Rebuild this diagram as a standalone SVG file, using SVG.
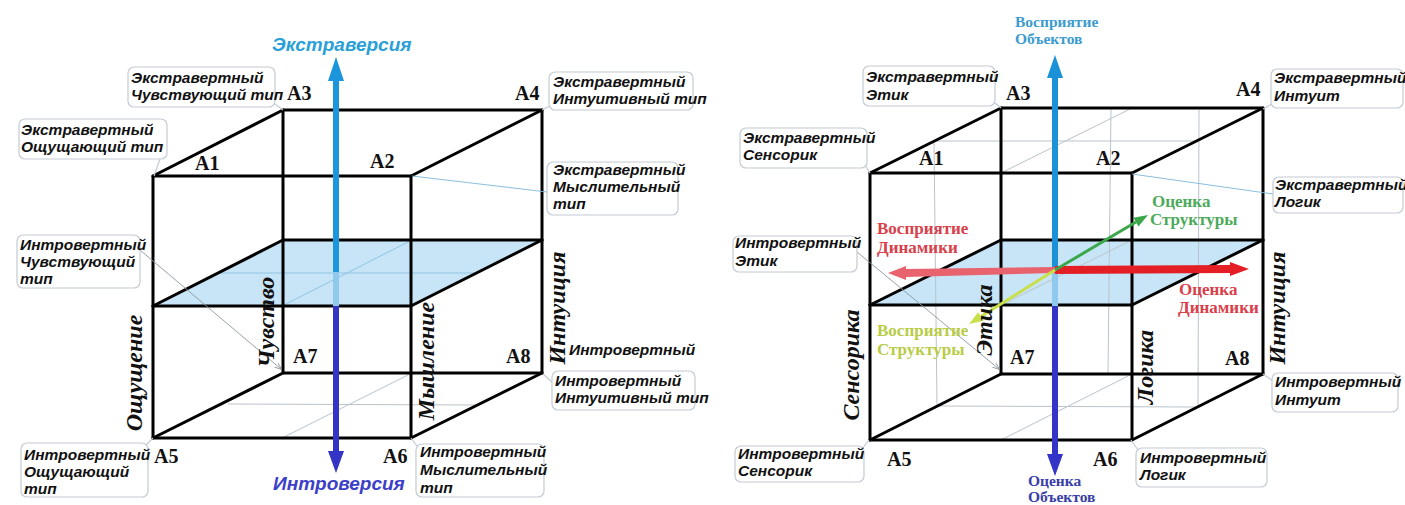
<svg xmlns="http://www.w3.org/2000/svg" width="1405" height="505" viewBox="0 0 1405 505">
<style>
.edge{stroke:#000;stroke-width:3;fill:none;stroke-linecap:round;stroke-linejoin:round}
.faint{stroke:#b9c3cb;stroke-width:1;fill:none}
.faintb{stroke:#8fc3e3;stroke-width:1;fill:none}
.plane{fill:#c8e5f7}
.box{fill:#fff;stroke:#c3cbd3;stroke-width:1.2}
.tail{stroke:#c3cbd3;stroke-width:1.2;fill:none}
.lead{stroke:#8c969e;stroke-width:0.9;fill:none}
.leadb{stroke:#7db8da;stroke-width:0.9;fill:none}
.ct{font-family:"Liberation Sans",Arial,sans-serif;font-weight:bold;font-style:italic;font-size:15.5px;fill:#111}
.vx{font-family:"Liberation Serif","Times New Roman",serif;font-weight:bold;font-size:20px;fill:#111}
.ax{font-family:"Liberation Serif","Times New Roman",serif;font-weight:bold;font-style:italic;font-size:24px;fill:#111;text-anchor:middle}
.lb{font-family:"Liberation Serif","Times New Roman",serif;font-weight:bold;font-size:17px}
.lbs{font-family:"Liberation Serif","Times New Roman",serif;font-weight:bold;font-size:15.5px}
.ttl{font-family:"Liberation Sans",Arial,sans-serif;font-weight:bold;font-style:italic;font-size:19px}
</style>
<defs>
<marker id="ah" viewBox="0 0 10 10" refX="9" refY="5" markerWidth="7" markerHeight="7" orient="auto" markerUnits="userSpaceOnUse">
<path d="M0,1 L10,5 L0,9" fill="none" stroke="#8c969e" stroke-width="1.2"/>
</marker>
</defs>
<rect width="1405" height="505" fill="#fff"/>

<!-- LEFT CUBE -->
<g id="cube-left">
<polygon class="plane" points="153,306 411,306 542,240 283,240"/>
<g class="faint">
<line class="faintb" x1="282" y1="306" x2="412" y2="240"/>
<line class="faintb" x1="220" y1="273" x2="476" y2="273"/>
<line x1="282" y1="438" x2="412" y2="373"/>
<line x1="228" y1="404" x2="476" y2="405"/>
</g>
<g class="edge">
<polygon points="153,176 411,176 411,438 153,438"/>
<polygon points="283,110 542,110 542,373 283,373"/>
<line x1="153" y1="176" x2="283" y2="110"/>
<line x1="411" y1="176" x2="542" y2="110"/>
<line x1="153" y1="438" x2="283" y2="373"/>
<line x1="411" y1="438" x2="542" y2="373"/>
<line x1="153" y1="306" x2="411" y2="306"/>
<line x1="283" y1="240" x2="542" y2="240"/>
<line x1="153" y1="306" x2="283" y2="240"/>
<line x1="411" y1="306" x2="542" y2="240"/>
</g>
</g>

<!-- RIGHT CUBE -->
<g id="cube-right">
<polygon class="plane" points="870,305 1132,305 1263,240 1001,240"/>
<g class="faint">
<line x1="1001" y1="173" x2="1132" y2="108"/>
<line x1="935" y1="141" x2="1198" y2="141"/>
<line x1="1001" y1="305" x2="1132" y2="240"/>
<line x1="1001" y1="440" x2="1132" y2="374"/>
<line x1="935" y1="406" x2="1198" y2="407"/>
<line x1="934" y1="141" x2="937" y2="407"/>
<line x1="1111" y1="108" x2="1108" y2="374"/>
<line x1="1199" y1="110" x2="1198" y2="407"/>
</g>
<g class="edge">
<polygon points="870,173 1132,173 1132,440 870,440"/>
<polygon points="1001,108 1263,108 1263,374 1001,374"/>
<line x1="870" y1="173" x2="1001" y2="108"/>
<line x1="1132" y1="173" x2="1263" y2="108"/>
<line x1="870" y1="440" x2="1001" y2="374"/>
<line x1="1132" y1="440" x2="1263" y2="374"/>
<line x1="870" y1="305" x2="1132" y2="305"/>
<line x1="1001" y1="240" x2="1263" y2="240"/>
<line x1="870" y1="305" x2="1001" y2="240"/>
<line x1="1132" y1="305" x2="1263" y2="240"/>
</g>
</g>

<!-- CONNECTORS / ARROWS -->
<g id="connectors">
<line x1="336" y1="78" x2="336" y2="272" stroke="#1b95dc" stroke-width="6"/>
<polygon points="336,57 328,81 344,81" fill="#1b95dc"/>
<line x1="336" y1="272" x2="336" y2="306" stroke="#8fcaee" stroke-width="6"/>
<line x1="336" y1="306" x2="336" y2="454" stroke="#3434c6" stroke-width="6"/>
<polygon points="336,473 328,451 344,451" fill="#3434c6"/>
<line x1="1055" y1="76" x2="1055" y2="270" stroke="#1b92d8" stroke-width="6"/>
<polygon points="1055,55 1047,78 1063,78" fill="#1b92d8"/>
<line x1="1055" y1="270" x2="1055" y2="306" stroke="#8fcaee" stroke-width="6"/>
<line x1="1055" y1="306" x2="1055" y2="456" stroke="#3434c6" stroke-width="6"/>
<polygon points="1055,476 1047,454 1063,454" fill="#3434c6"/>
<polygon points="1055,267 906,269 906,266 888,273 906,280 906,277 1055,273" fill="#e8636e"/>
<polygon points="1055,266 1230,265 1230,262 1249,269 1230,276 1230,273 1055,274" fill="#e31e24"/>
<line x1="1055" y1="270" x2="1136" y2="222" stroke="#3aa84a" stroke-width="3"/>
<polygon points="1148,215 1138.5,226.4 1133.4,217.8" fill="#3aa84a"/>
<line x1="1055" y1="270" x2="981" y2="316.5" stroke="#c9e04a" stroke-width="3"/>
<polygon points="969,324 983.6,320.8 978.2,312.3" fill="#c9e04a"/>
<line class="lead" x1="140" y1="250" x2="281" y2="369" marker-end="url(#ah)"/>
<line class="lead" x1="857" y1="252" x2="999" y2="369" marker-end="url(#ah)"/>
<line class="leadb" x1="412" y1="176" x2="547" y2="192"/>
<line class="leadb" x1="1132" y1="174" x2="1273" y2="194"/>
<g class="tail">
<line x1="160" y1="159" x2="154" y2="176"/>
<line x1="275" y1="104" x2="283" y2="110"/>
<line x1="550" y1="106" x2="542" y2="110"/>
<line x1="543" y1="374" x2="553" y2="383"/>
<line x1="411" y1="438" x2="417" y2="446"/>
<line x1="153" y1="438" x2="146" y2="445"/>
<line x1="995" y1="103" x2="1001" y2="108"/>
<line x1="865" y1="165" x2="870" y2="173"/>
<line x1="1272" y1="104" x2="1263" y2="109"/>
<line x1="869" y1="440" x2="862" y2="449"/>
<line x1="1131" y1="440" x2="1138" y2="450"/>
<line x1="1263" y1="374" x2="1273" y2="381"/>
</g>
</g>

<!-- LEFT CALLOUTS -->
<g id="l-ext-feel"><rect class="box" x="128" y="67" width="147" height="40" rx="6"/><text class="ct" x="131" y="83">Экстравертный</text><text class="ct" x="131" y="100">Чувствующий тип</text></g>
<g id="l-ext-sense"><rect class="box" x="19" y="119" width="148" height="40" rx="6"/><text class="ct" x="21" y="135">Экстравертный</text><text class="ct" x="21" y="152">Ощущающий тип</text></g>
<g id="l-ext-intu"><rect class="box" x="549" y="72" width="144" height="38" rx="6"/><text class="ct" x="553" y="87">Экстравертный</text><text class="ct" x="553" y="104">Интуитивный тип</text></g>
<g id="l-ext-think"><rect class="box" x="547" y="162" width="131" height="53" rx="6"/><text class="ct" x="553" y="175">Экстравертный</text><text class="ct" x="553" y="192">Мыслительный</text><text class="ct" x="553" y="209">тип</text></g>
<g id="l-int-feel"><rect class="box" x="17" y="235" width="123" height="53" rx="6"/><text class="ct" x="20" y="250">Интровертный</text><text class="ct" x="20" y="267">Чувствующий</text><text class="ct" x="20" y="284">тип</text></g>
<g id="l-int-sense"><rect class="box" x="21" y="443" width="127" height="54" rx="6"/><text class="ct" x="24" y="460">Интровертный</text><text class="ct" x="24" y="477">Ощущающий</text><text class="ct" x="24" y="494">тип</text></g>
<g id="l-int-think"><rect class="box" x="416" y="444" width="128" height="53" rx="6"/><text class="ct" x="420" y="457">Интровертный</text><text class="ct" x="420" y="475">Мыслительный</text><text class="ct" x="420" y="493">тип</text></g>
<g id="l-int-intu"><text class="ct" x="569" y="355">Интровертный</text><rect class="box" x="552" y="371" width="143" height="39" rx="6"/><text class="ct" x="555" y="386">Интровертный</text><text class="ct" x="555" y="403">Интуитивный тип</text></g>

<!-- LEFT LABELS -->
<g id="l-vertices">
<text class="vx" x="195" y="170">A1</text>
<text class="vx" x="370" y="168">A2</text>
<text class="vx" x="287" y="100">A3</text>
<text class="vx" x="515" y="100">A4</text>
<text class="vx" x="154" y="463">A5</text>
<text class="vx" x="383" y="463">A6</text>
<text class="vx" x="293" y="363">A7</text>
<text class="vx" x="506" y="363">A8</text>
</g>
<g id="l-axes">
<text class="ax" transform="translate(142,373) rotate(-90)">Ощущение</text>
<text class="ax" transform="translate(274,322) rotate(-90)">Чувство</text>
<text class="ax" transform="translate(434,361) rotate(-90)">Мышление</text>
<text class="ax" transform="translate(565,308) rotate(-90)">Интуиция</text>
</g>
<g id="l-titles">
<text class="ttl" x="272" y="51" fill="#2a9fd8">Экстраверсия</text>
<text class="ttl" x="273" y="490" fill="#3c40c8">Интроверсия</text>
</g>

<!-- RIGHT CALLOUTS -->
<g id="r-ext-eth"><rect class="box" x="863" y="66" width="132" height="40" rx="6"/><text class="ct" x="866" y="82">Экстравертный</text><text class="ct" x="866" y="100">Этик</text></g>
<g id="r-ext-sens"><rect class="box" x="740" y="128" width="127" height="40" rx="6"/><text class="ct" x="743" y="143">Экстравертный</text><text class="ct" x="743" y="160">Сенсорик</text></g>
<g id="r-ext-intu"><rect class="box" x="1271" y="69" width="132" height="39" rx="6"/><text class="ct" x="1274" y="83">Экстравертный</text><text class="ct" x="1274" y="101">Интуит</text></g>
<g id="r-ext-log"><rect class="box" x="1273" y="177" width="130" height="36" rx="6"/><text class="ct" x="1275" y="190">Экстравертный</text><text class="ct" x="1275" y="207">Логик</text></g>
<g id="r-int-eth"><rect class="box" x="733" y="236" width="124" height="36" rx="6"/><text class="ct" x="735" y="248">Интровертный</text><text class="ct" x="735" y="266">Этик</text></g>
<g id="r-int-sens"><rect class="box" x="735" y="446" width="129" height="36" rx="6"/><text class="ct" x="738" y="459">Интровертный</text><text class="ct" x="738" y="476">Сенсорик</text></g>
<g id="r-int-log"><rect class="box" x="1136" y="448" width="131" height="39" rx="6"/><text class="ct" x="1140" y="463">Интровертный</text><text class="ct" x="1140" y="480">Логик</text></g>
<g id="r-int-intu"><rect class="box" x="1272" y="373" width="126" height="39" rx="6"/><text class="ct" x="1275" y="387">Интровертный</text><text class="ct" x="1275" y="405">Интуит</text></g>

<!-- RIGHT LABELS -->
<g id="r-vertices">
<text class="vx" x="919" y="165">A1</text>
<text class="vx" x="1096" y="165">A2</text>
<text class="vx" x="1006" y="100">A3</text>
<text class="vx" x="1236" y="96">A4</text>
<text class="vx" x="887" y="466">A5</text>
<text class="vx" x="1093" y="466">A6</text>
<text class="vx" x="1010" y="364">A7</text>
<text class="vx" x="1225" y="365">A8</text>
</g>
<g id="r-axes">
<text class="ax" transform="translate(859,365) rotate(-90)">Сенсорика</text>
<text class="ax" transform="translate(992,320) rotate(-90)">Этика</text>
<text class="ax" transform="translate(1153,367) rotate(-90)">Логика</text>
<text class="ax" transform="translate(1285,308) rotate(-90)">Интуиция</text>
</g>
<g id="r-function-labels">
<text class="lbs" fill="#3d9bd0" x="1015" y="27">Восприятие</text>
<text class="lbs" fill="#3d9bd0" x="1015" y="44">Объектов</text>
<text class="lbs" fill="#3a3fa8" x="1028" y="486">Оценка</text>
<text class="lbs" fill="#3a3fa8" x="1028" y="502">Объектов</text>
<text class="lb" fill="#d8404a"><tspan x="877" y="234">Восприятие</tspan><tspan x="877" y="253">Динамики</tspan></text>
<text class="lb" fill="#d8404a"><tspan x="1179" y="295">Оценка</tspan><tspan x="1178" y="313">Динамики</tspan></text>
<text class="lb" fill="#4caa5a"><tspan x="1152" y="207">Оценка</tspan><tspan x="1150" y="225">Структуры</tspan></text>
<text class="lb" fill="#b8cc48"><tspan x="877" y="336">Восприятие</tspan><tspan x="877" y="355">Структуры</tspan></text>
</g>
</svg>
